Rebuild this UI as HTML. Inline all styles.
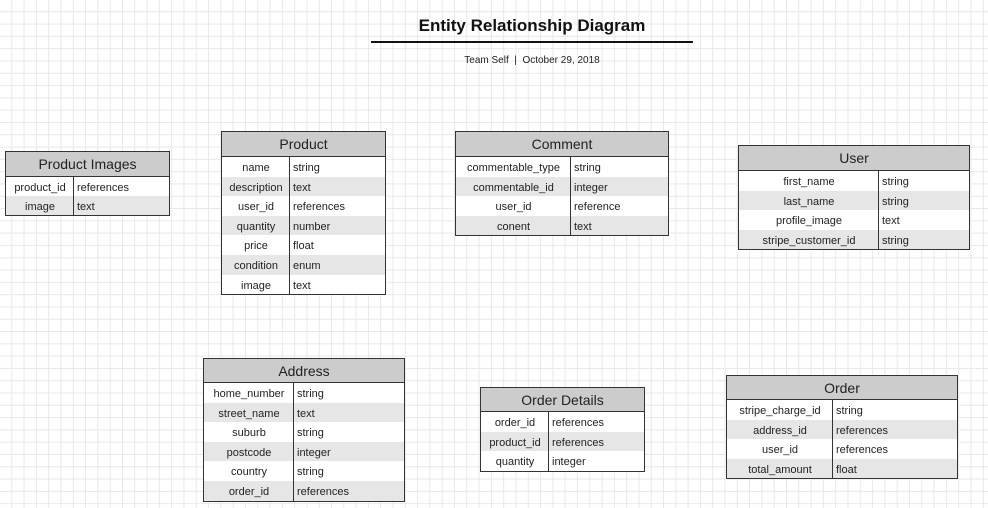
<!DOCTYPE html>
<html><head><meta charset="utf-8"><style>
body{margin:0;width:988px;height:508px;overflow:hidden;font-family:"Liberation Sans",Arial,sans-serif;position:relative;
background-color:#fff;
background-image:linear-gradient(#e8e8e8 1px,transparent 1px),linear-gradient(90deg,#e8e8e8 1px,transparent 1px);
background-size:12.3px 12.3px;background-position:-1px -1px;}
.t{position:absolute;border:1.5px solid #333;background:#fff;box-sizing:border-box;}
.h{background:#ccc;border-bottom:1.5px solid #333;text-align:center;font-size:14px;color:#222;box-sizing:border-box;}
.r{position:relative;font-size:11px;color:#222;}
.r:nth-child(even){background:#e6e6e6;}
.k{position:absolute;left:0;top:0;text-align:center;padding-top:2px;box-sizing:border-box;height:100%;}
.v{position:absolute;top:0;padding-left:3px;padding-top:2px;border-left:1.5px solid #333;height:100%;box-sizing:border-box;}
.title{position:absolute;top:16px;left:0;text-align:center;font-weight:bold;font-size:17px;color:#111}
</style></head><body>
<div class="title" style="width:1064px">Entity Relationship Diagram</div>
<div style="position:absolute;left:371px;top:41px;width:322px;height:1.5px;background:#111"></div>
<div style="position:absolute;top:55px;left:371px;width:322px;text-align:center;font-size:10px;color:#222">Team Self &nbsp;|&nbsp; October 29, 2018</div>
<div id="c"></div>
<script>
const T=[
["Product Images",5,151,165,24.5,68,19,[["product_id","references"],["image","text"]]],
["Product",221,131,165,25,68,19.6,[["name","string"],["description","text"],["user_id","references"],["quantity","number"],["price","float"],["condition","enum"],["image","text"]]],
["Comment",455,131,214,25,115,19.6,[["commentable_type","string"],["commentable_id","integer"],["user_id","reference"],["conent","text"]]],
["User",738,145,232,25,140,19.5,[["first_name","string"],["last_name","string"],["profile_image","text"],["stripe_customer_id","string"]]],
["Address",203,358,202,24,90,19.6,[["home_number","string"],["street_name","text"],["suburb","string"],["postcode","integer"],["country","string"],["order_id","references"]]],
["Order Details",480,387,165,24,68,19.5,[["order_id","references"],["product_id","references"],["quantity","integer"]]],
["Order",726,375,232,24,106,19.6,[["stripe_charge_id","string"],["address_id","references"],["user_id","references"],["total_amount","float"]]]
];
let h="";
for(const [n,x,y,w,hh,d,rh,rows] of T){
 h+=`<div class="t" style="left:${x}px;top:${y}px;width:${w}px;height:${hh+rows.length*rh+2}px"><div class="h" style="height:${hh}px;line-height:${hh}px">${n}</div><div>`;
 for(const [k,v] of rows) h+=`<div class="r" style="height:${rh}px;line-height:${rh}px"><div class="k" style="width:${d}px">${k}</div><div class="v" style="left:${d-1}px">${v}</div></div>`;
 h+=`</div></div>`;
}
document.getElementById("c").innerHTML=h;
</script>
</body></html>
